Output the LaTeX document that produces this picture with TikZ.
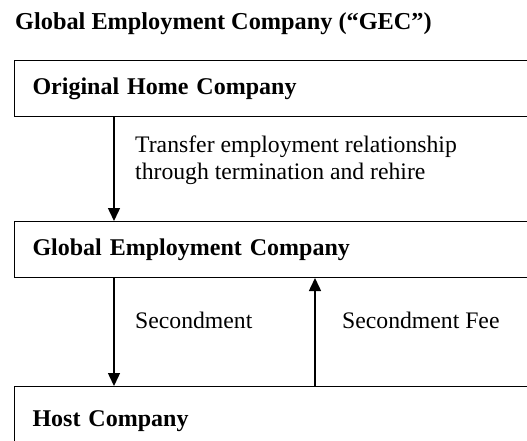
\documentclass[tikz,border=0pt]{standalone}
\usepackage{fontspec}
\setmainfont{Liberation Serif}
\usetikzlibrary{arrows.meta}

\begin{document}
\begin{tikzpicture}[x=1pt, y=-1pt,
    company/.style={draw, line width=1pt, anchor=north west,
      minimum height=56pt, text width=480pt, inner xsep=18pt,
      align=left, font=\fontsize{24}{26}\selectfont\bfseries},
    flow/.style={line width=1.5pt, -{Triangle[length=13pt,width=12pt]}},
    note/.style={anchor=base west, inner sep=0pt, align=left,
      font=\fontsize{23.7}{26}\selectfont}]
  \useasboundingbox (0,0) rectangle (527,441);

  % heading
  \node [anchor=base west, inner sep=0pt, font=\fontsize{24.3}{26}\selectfont\bfseries]
    (title) at (15,30) {Global Employment Company (``GEC'')};

  % the three companies
  \node [company] (home) at (14,60) {Original Home Company};
  \node [company] (gec)  at (14,221) {Global Employment Company};
  \node [company, minimum height=70pt] (host) at (14,386) {Host Company};

  % arrow lanes
  \coordinate (lanea) at (114,0);
  \coordinate (laneb) at (315,0);

  \draw [flow] (home.south -| lanea) -- (gec.north -| lanea);
  \draw [flow] (gec.south -| lanea) -- (host.north -| lanea);
  \draw [flow] (host.north -| laneb) -- (gec.south -| laneb);

  % labels on the arrows
  \node [note] (transfer) at (135,153) {Transfer employment relationship};
  \node [note] (rehire) at (135,179) {through termination and rehire};
  \node [note] (second) at (135,328) {Secondment};
  \node [note] (fee) at (342,328) {Secondment Fee};
\end{tikzpicture}
\end{document}
